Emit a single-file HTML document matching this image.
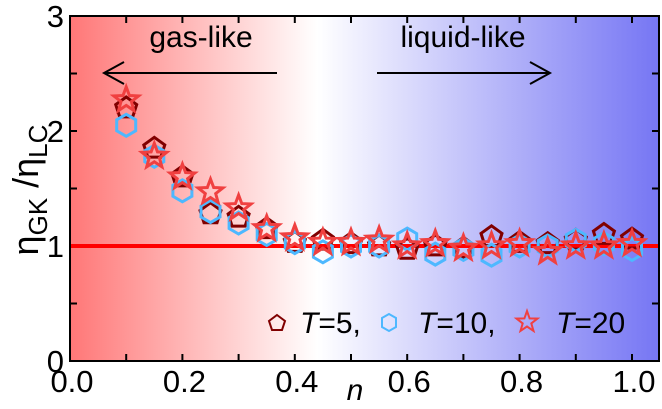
<!DOCTYPE html>
<html><head><meta charset="utf-8"><style>
body{margin:0;background:#fff;width:662px;height:404px;overflow:hidden}
svg{font-family:"Liberation Sans",sans-serif}
</style></head><body>
<svg id="chart" width="662" height="404" viewBox="0 0 662 404">
<defs>
<linearGradient id="bg" x1="0" x2="1" y1="0" y2="0">
<stop offset="0" stop-color="#f77"/><stop offset="0.42" stop-color="#fff"/><stop offset="1" stop-color="#7676f4"/>
</linearGradient>
</defs>
<rect x="70" y="16" width="589" height="345" fill="url(#bg)"/>
<g id="ticks"></g>
<line id="refline" stroke="#f00" stroke-width="4"/>
<g id="marks"></g>
<rect x="70" y="16" width="589" height="345" fill="none" stroke="#000" stroke-width="2"/>
<text x="201" y="47" font-size="30" text-anchor="middle">gas-like</text>
<g stroke="#000" stroke-width="2" fill="none">
<line x1="277" y1="73" x2="104" y2="73"/><polyline points="124,62 104,73 124,84"/></g>
<text x="463" y="47" font-size="30" text-anchor="middle">liquid-like</text>
<g stroke="#000" stroke-width="2" fill="none">
<line x1="377" y1="73" x2="550" y2="73"/><polyline points="530,62 550,73 530,84"/></g>
<g font-size="30">
<polygon points="277,315 285,321 282,330 272,330 269,321" fill="none" stroke="#800000" stroke-width="2"/>
<text x="300" y="333"><tspan font-style="italic">T</tspan>=5,</text>
<polygon points="396,318 396,327 389,331 382,327 382,318 389,314" fill="none" stroke="#4db8ff" stroke-width="2"/>
<text x="418" y="333"><tspan font-style="italic">T</tspan>=10,</text>
<text x="556" y="333"><tspan font-style="italic">T</tspan>=20</text>
</g>
<text x="355" y="400" font-size="30" font-style="italic" text-anchor="middle">n</text>
<text transform="translate(38,190) rotate(-90)" font-size="36" text-anchor="middle">η<tspan font-size="26" dy="9">GK</tspan><tspan dy="-9"> /η</tspan><tspan font-size="26" dy="9">LC</tspan></text>
</svg>
<script>
const nValues=[0.1,0.15,0.2,0.25,0.3,0.35,0.4,0.45,0.5,0.55,0.6,0.65,0.7,0.75,0.8,0.85,0.9,0.95,1.0];
const t5Values=[2.2,1.85,1.6,1.28,1.25,1.15,1.03,1.05,1.02,1.0,0.97,1.0,0.98,1.08,1.03,1.02,1.05,1.1,1.06];
const t10Values=[2.05,1.78,1.48,1.3,1.2,1.1,1.03,0.95,1.0,1.0,1.06,0.93,0.97,0.92,1.0,1.0,1.05,1.02,0.97];
const t20Values=[2.27,1.78,1.6,1.47,1.33,1.15,1.07,1.03,1.03,1.05,1.0,1.02,0.98,1.0,1.02,0.95,1.0,1.0,1.02];
const xTicks=[0,0.2,0.4,0.6,0.8,1.0];
const xTickLabels=["0.0","0.2","0.4","0.6","0.8","1.0"];
const yTicks=[0,1,2,3];
const yTickLabels=["0","1","2","3"];
const refValue=1;
const NS="http://www.w3.org/2000/svg";
const X=v=>70+v*562, Y=v=>361-v*115;
function el(tag,attrs,parent){const e=document.createElementNS(NS,tag);for(const k in attrs)e.setAttribute(k,attrs[k]);parent.appendChild(e);return e;}
const tg=document.getElementById('ticks'), svg=document.getElementById('chart');
for(let v=0;v<=1.0001;v+=0.1){const t=el('line',{x1:X(v),x2:X(v),y1:361,y2:354,stroke:'#000','stroke-width':2},tg);
const t2=el('line',{x1:X(v),x2:X(v),y1:16,y2:23,stroke:'#000','stroke-width':2},tg);}
for(let v=0;v<=3;v+=0.5){const t=el('line',{x1:70,x2:77,y1:Y(v),y2:Y(v),stroke:'#000','stroke-width':2},tg);
const t2=el('line',{x1:659,x2:652,y1:Y(v),y2:Y(v),stroke:'#000','stroke-width':2},tg);}
xTicks.forEach((v,i)=>{const t=el('text',{x:X(v)+2,y:392,'font-size':31,'text-anchor':'middle'},svg);t.textContent=xTickLabels[i];
});
yTicks.forEach((v,i)=>{const t=el('text',{x:64,y:Y(v)+11,'font-size':31,'text-anchor':'end'},svg);t.textContent=yTickLabels[i];
});
const rl=document.getElementById('refline');rl.setAttribute('x1',70);rl.setAttribute('x2',659);rl.setAttribute('y1',Y(refValue));rl.setAttribute('y2',Y(refValue));
function poly(n,r,rot,cx,cy,inner){let p=[];const m=inner?n*2:n;for(let i=0;i<m;i++){const a=rot+i*2*Math.PI/m;const rr=inner&&i%2?inner:r;p.push((cx+rr*Math.sin(a)).toFixed(1)+','+(cy-rr*Math.cos(a)).toFixed(1));}return p.join(' ');}
const mg=document.getElementById('marks');
nValues.forEach((n,i)=>{const m=el('polygon',{points:poly(5,11,0,X(n),Y(t5Values[i])),fill:'none',stroke:'#800000','stroke-width':3},mg);
});
nValues.forEach((n,i)=>{const m=el('polygon',{points:poly(6,11,0,X(n),Y(t10Values[i])),fill:'none',stroke:'#4db8ff','stroke-width':3},mg);
});
nValues.forEach((n,i)=>{const m=el('polygon',{points:poly(5,13,0,X(n),Y(t20Values[i]),5.5),fill:'none',stroke:'#f04040','stroke-width':3},mg);
});
const ls=el('polygon',{points:poly(5,11,0,527,322,4.5),fill:'none',stroke:'#f04040','stroke-width':2},svg);

</script>
</body></html>
